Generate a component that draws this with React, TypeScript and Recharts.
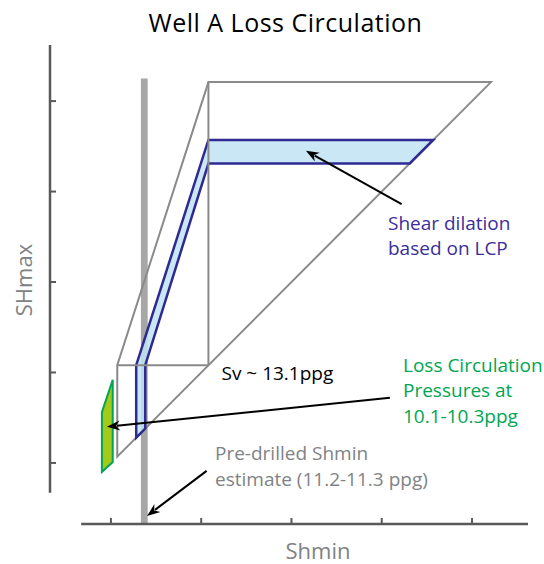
import { ComposedChart, XAxis, YAxis, ReferenceArea, ReferenceLine } from 'recharts';

// axis frame (arbitrary stress units, Shmin on x, SHmax on y)
const axisTicks = [1, 2, 3, 4, 5];
const axisDomain: [number, number] = [0.325, 5.62];
const axisStart = 0.67;

// stress polygon outline: Shmin = SHmax diagonal, Sv corner, upper bound
const outerPolygon = [[1.07, 1.07], [1.07, 2.08], [2.08, 5.21], [5.21, 5.21]];
const svLines = [
  [[1.07, 2.08], [2.08, 2.08]],
  [[2.08, 2.08], [2.08, 5.21]],
];

// shear dilation band from LCP
const lcpBand = [[1.28, 1.28], [1.28, 2.08], [2.08, 4.57], [4.57, 4.57], [4.31, 4.31], [2.08, 4.31], [1.38, 2.08], [1.38, 1.38]];

// loss circulation pressures 10.1-10.3 ppg
const lossCirc = [[0.9, 0.9], [0.9, 1.56], [1.02, 1.92], [1.02, 1.01]];

// pre-drilled Shmin estimate 11.2-11.3 ppg
const shminEstimate = [1.332, 1.407];
const shminTop = 5.25;

// annotation arrows: [tail, head]
const arrows = [
  [[4.22, 3.86], [3.16, 4.45]],
  [[4.09, 1.72], [0.956, 1.4]],
  [[2.06, 0.912], [1.4, 0.414]],
];

const GRID = '#8a8a8a';
const AXIS = '#58595b';
const FONT = '"Open Sans", sans-serif';

function polygonArea(key: string, pts: number[][], fill: string, stroke: string, sw: number, fillOpacity = 1) {
  const xs = pts.map(p => p[0]);
  const ys = pts.map(p => p[1]);
  const x1 = Math.min(...xs), x2 = Math.max(...xs), y1 = Math.min(...ys), y2 = Math.max(...ys);
  return (
    <ReferenceArea
      key={key}
      x1={x1} x2={x2} y1={y1} y2={y2}
      ifOverflow="visible"
      shape={(p: any) => {
        const s = pts
          .map(([vx, vy]) => `${p.x + ((vx - x1) / (x2 - x1)) * p.width},${p.y + ((y2 - vy) / (y2 - y1)) * p.height}`)
          .join(' ');
        return <polygon points={s} fill={fill} fillOpacity={fillOpacity} stroke={stroke} strokeWidth={sw} strokeLinejoin="miter" />;
      }}
    />
  );
}

function arrowShape(p: any) {
  const { x1, y1, x2, y2 } = p;
  const ang = Math.atan2(y2 - y1, x2 - x1);
  const len = 13, half = 5;
  const bx = x2 - len * Math.cos(ang), by = y2 - len * Math.sin(ang);
  const nx = -Math.sin(ang), ny = Math.cos(ang);
  return (
    <g>
      <line x1={x1} y1={y1} x2={bx + 3 * Math.cos(ang)} y2={by + 3 * Math.sin(ang)} stroke="#000" strokeWidth={2} />
      <polygon
        points={`${x2},${y2} ${bx + nx * half},${by + ny * half} ${bx + 4 * Math.cos(ang)},${by + 4 * Math.sin(ang)} ${bx - nx * half},${by - ny * half}`}
        fill="#000"
      />
    </g>
  );
}

const noLabel = () => <g />;

export default function App() {
  return (
    <div style={{ position: 'absolute', left: 0, top: 0, width: 544, height: 564, background: '#fff' }}>
      <ComposedChart width={544} height={564} margin={{ top: 45, right: 16, bottom: 40, left: 50 }}>
        <XAxis
          type="number" dataKey="x" domain={axisDomain} allowDataOverflow ticks={axisTicks}
          axisLine={false} tick={noLabel} mirror tickSize={6}
          tickLine={{ stroke: AXIS, strokeWidth: 2 }}
        />
        <YAxis
          type="number" dataKey="y" domain={axisDomain} allowDataOverflow ticks={axisTicks}
          axisLine={false} tick={noLabel} mirror tickSize={6}
          tickLine={{ stroke: AXIS, strokeWidth: 2 }}
        />

        {/* axis lines, offset from each other */}
        <ReferenceLine segment={[{ x: axisDomain[0], y: axisStart }, { x: axisDomain[0], y: axisDomain[1] }]} stroke={AXIS} strokeWidth={2.5} ifOverflow="visible" />
        <ReferenceLine segment={[{ x: axisStart, y: axisDomain[0] }, { x: axisDomain[1], y: axisDomain[0] }]} stroke={AXIS} strokeWidth={2.5} ifOverflow="visible" />

        <ReferenceArea x1={shminEstimate[0]} x2={shminEstimate[1]} y1={axisDomain[0]} y2={shminTop} fill="#a7a7a7" fillOpacity={1} ifOverflow="visible" />

        {polygonArea('outer', outerPolygon, 'none', GRID, 2)}
        {svLines.map((s, i) => (
          <ReferenceLine key={'sv' + i} segment={[{ x: s[0][0], y: s[0][1] }, { x: s[1][0], y: s[1][1] }]} stroke={GRID} strokeWidth={2} ifOverflow="visible" />
        ))}

        {polygonArea('lcp', lcpBand, '#bfe3f2', '#2e2a92', 2.5, 0.85)}
        {polygonArea('loss', lossCirc, '#a4c91a', '#00a651', 2)}

        {arrows.map((a, i) => (
          <ReferenceLine key={'ar' + i} segment={[{ x: a[0][0], y: a[0][1] }, { x: a[1][0], y: a[1][1] }]} ifOverflow="visible" shape={arrowShape} />
        ))}
      </ComposedChart>

      <svg width={544} height={564} style={{ position: 'absolute', left: 0, top: 0, pointerEvents: 'none' }} fontFamily={FONT}>
        <text x={285.5} y={32} textAnchor="middle" fontSize={25} letterSpacing={0.5} fill="#000">Well A Loss Circulation</text>
        <text x={32} y={280} transform="rotate(-90 32 280)" textAnchor="middle" fontSize={22} fill="#808285">SHmax</text>
        <text x={318} y={559} textAnchor="middle" fontSize={22} fill="#808285">Shmin</text>

        <text x={388} y={230} fontSize={19} fill="#3c2e9a">Shear dilation</text>
        <text x={388} y={255} fontSize={19} fill="#3c2e9a">based on LCP</text>

        <text x={221.5} y={380} fontSize={19} fill="#000">Sv ~ 13.1ppg</text>

        <text x={403} y={372} fontSize={19} fill="#00a651">Loss Circulation</text>
        <text x={403} y={397} fontSize={19} fill="#00a651">Pressures at</text>
        <text x={403} y={423} fontSize={19} fill="#00a651">10.1-10.3ppg</text>

        <text x={215} y={460} fontSize={19} fill="#808285">Pre-drilled Shmin</text>
        <text x={215} y={486} fontSize={19} fill="#808285">estimate (11.2-11.3 ppg)</text>
      </svg>
    </div>
  );
}
